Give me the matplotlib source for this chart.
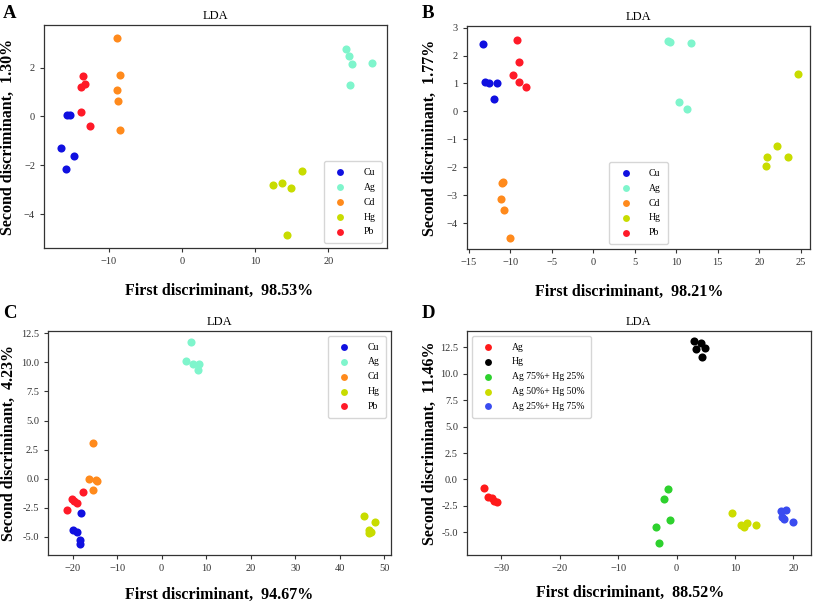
import matplotlib
matplotlib.use("Agg")
import matplotlib.pyplot as plt

plt.rcParams['font.family'] = ['Liberation Serif', 'DejaVu Serif']

# ---- panel A ----
a_labels = ["Cu", "Ag", "Cd", "Hg", "Pb"]
a_x = [[-15.6, -15.2, -16.5, -14.7, -15.8],
       [22.4, 22.8, 23.2, 25.9, 23.0],
       [-8.8, -8.5, -8.9, -8.7, -8.5],
       [12.4, 13.7, 14.9, 16.4, 14.4],
       [-13.5, -13.2, -13.8, -13.7, -12.5]]
a_y = [[0.04, 0.04, -1.29, -1.62, -2.14],
       [2.76, 2.46, 2.14, 2.18, 1.29],
       [3.22, 1.71, 1.09, 0.63, -0.54],
       [-2.83, -2.71, -2.93, -2.24, -4.87],
       [1.67, 1.33, 1.21, 0.16, -0.38]]

# ---- panel B ----
b_labels = ["Cu", "Ag", "Cd", "Hg", "Pb"]
b_x = [[-13.3, -13.0, -12.5, -11.6, -12.0],
       [9.0, 9.2, 11.8, 10.3, 11.3],
       [-11.0, -10.9, -11.1, -10.8, -10.0],
       [24.6, 22.1, 20.9, 20.8, 23.4],
       [-9.2, -8.9, -9.7, -8.9, -8.1]]
b_y = [[2.42, 1.06, 1.01, 1.01, 0.46],
       [2.52, 2.49, 2.44, 0.32, 0.07],
       [-2.55, -2.52, -3.14, -3.55, -4.52],
       [1.35, -1.25, -1.62, -1.94, -1.65],
       [2.55, 1.77, 1.31, 1.05, 0.87]]

# ---- panel C ----
c_labels = ["Cu", "Ag", "Cd", "Hg", "Pb"]
c_x = [[-18.0, -19.9, -18.9, -18.4, -18.4],
       [6.7, 5.5, 7.1, 8.5, 8.2],
       [-15.4, -16.3, -14.6, -14.8, -15.4],
       [45.4, 47.8, 46.6, 46.9, 46.6],
       [-17.7, -20.2, -19.6, -19.1, -21.2]]
c_y = [[-2.92, -4.44, -4.56, -5.27, -5.64],
       [11.72, 10.11, 9.86, 9.86, 9.31],
       [3.07, 0.0, -0.2, -0.1, -1.0],
       [-3.18, -3.72, -4.41, -4.58, -4.70],
       [-1.17, -1.78, -1.95, -2.12, -2.72]]

# ---- panel D ----
d_labels = ["Ag", "Hg", "Ag 75%+ Hg 25%", "Ag 50%+ Hg 50%", "Ag 25%+ Hg 75%"]
d_x = [[-33.0, -32.3, -31.6, -31.3, -30.8],
       [2.9, 4.1, 3.4, 4.8, 4.3],
       [-1.5, -2.1, -1.1, -3.6, -3.1],
       [9.5, 11.0, 11.5, 12.0, 13.6],
       [17.9, 18.8, 18.1, 18.4, 20.0]]
d_y = [[-0.82, -1.65, -1.74, -2.00, -2.18],
       [13.13, 12.94, 12.31, 12.44, 11.61],
       [-0.89, -1.87, -3.83, -4.53, -5.98],
       [-3.20, -4.34, -4.46, -4.08, -4.34],
       [-2.97, -2.85, -3.54, -3.77, -3.99]]

metal_colors = ["#1010e0", "#7ff5cc", "#ff8a1c", "#c8dc00", "#ff1a28"]
mix_colors = ["#ff1a1a", "#000000", "#2ed12e", "#ccdc00", "#3a4cf0"]

fig = plt.figure(figsize=(8.17, 6.07), dpi=100)

panels = [
    ("A", [0.0539, 0.5914, 0.4198, 0.3674], a_labels, a_x, a_y, metal_colors,
     (-18.8, 28.0), (-5.39, 3.74), [-10, 0, 10, 20], [-4, -2, 0, 2],
     "First discriminant,  98.53%", "Second discriminant,  1.30%",
     "lower right", (0.51, -0.157), (-0.082, 0.5)),
    ("B", [0.5716, 0.5898, 0.4198, 0.3674], b_labels, b_x, b_y, metal_colors,
     (-15.2, 26.1), (-4.93, 3.06), [-15, -10, -5, 0, 5, 10, 15, 20, 25],
     [-4, -3, -2, -1, 0, 1, 2, 3],
     "First discriminant,  98.21%", "Second discriminant,  1.77%",
     "lower center", (0.474, -0.157), (-0.085, 0.5)),
    ("C", [0.0588, 0.0857, 0.4198, 0.369], c_labels, c_x, c_y, metal_colors,
     (-25.5, 51.5), (-6.56, 12.7), [-20, -10, 0, 10, 20, 30, 40, 50],
     [-5.0, -2.5, 0.0, 2.5, 5.0, 7.5, 10.0, 12.5],
     "First discriminant,  94.67%", "Second discriminant,  4.23%",
     "upper right", (0.498, -0.143), (-0.09, 0.5)),
    ("D", [0.5716, 0.0857, 0.421, 0.369], d_labels, d_x, d_y, mix_colors,
     (-35.9, 23.0), (-7.15, 14.05), [-30, -20, -10, 0, 10, 20],
     [-5.0, -2.5, 0.0, 2.5, 5.0, 7.5, 10.0, 12.5],
     "First discriminant,  88.52%", "Second discriminant,  11.46%",
     "upper left", (0.474, -0.135), (-0.085, 0.5)),
]

letter_pos = {"A": (0.004, 0.992), "B": (0.516, 0.992), "C": (0.004, 0.497), "D": (0.516, 0.497)}

for (letter, rect, labels, xs, ys, colors, xlim, ylim, xticks, yticks,
     xlab, ylab, legloc, xlc, ylc) in panels:
    ax = fig.add_axes(rect)
    for lab, x, y, c in zip(labels, xs, ys, colors):
        ax.scatter(x, y, s=34, color=c, label=lab, linewidths=0)
    ax.set_xlim(*xlim)
    ax.set_ylim(*ylim)
    ax.set_xticks(xticks)
    ax.set_yticks(yticks)
    if isinstance(yticks[0], float):
        ax.set_yticklabels(["%.1f" % v for v in yticks])
    ax.tick_params(labelsize=7.5, colors="#333333", length=3, width=0.8)
    for sp in ax.spines.values():
        sp.set_color("#333333")
        sp.set_linewidth(0.9)
    ax.set_title("LDA", fontsize=9, pad=4)
    ax.set_xlabel(xlab, fontsize=11.5, fontweight="bold")
    ax.set_ylabel(ylab, fontsize=11.5, fontweight="bold")
    ax.xaxis.set_label_coords(*xlc)
    ax.yaxis.set_label_coords(*ylc)
    leg = ax.legend(loc=legloc, fontsize=7, frameon=True, borderpad=0.7,
                    labelspacing=0.6, handletextpad=1.4, scatterpoints=1,
                    markerscale=0.85)
    leg.get_frame().set_edgecolor("#cccccc")
    lx, ly = letter_pos[letter]
    fig.text(lx, ly, letter, fontsize=13.5, fontweight="bold", va="top", ha="left")

fig.savefig("out.png", dpi=100)
